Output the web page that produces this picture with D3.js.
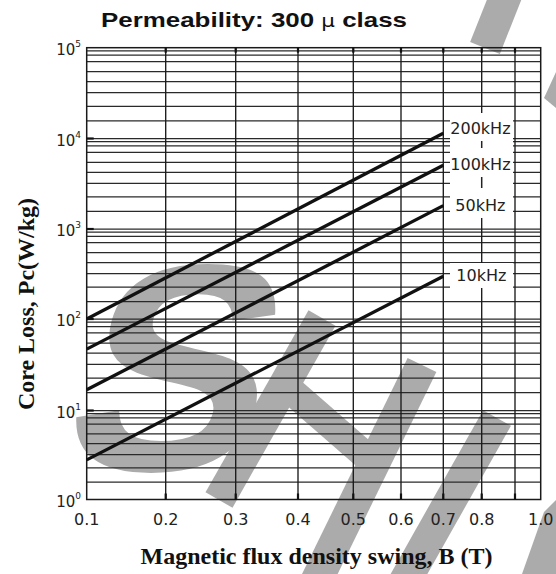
<!DOCTYPE html>
<html><head><meta charset="utf-8">
<script src="https://cdn.jsdelivr.net/npm/d3@7"></script>
<style>body{margin:0;background:#fff}svg{display:block}</style>
</head><body><svg id="c" width="556" height="574"></svg>
<script>
// ---------- DATA ----------
const bGridValues = [0.1, 0.2, 0.3, 0.4, 0.5, 0.6, 0.7, 0.8, 0.9, 1.0];
const bTickValues = [0.1, 0.2, 0.3, 0.4, 0.5, 0.6, 0.7, 0.8, 1.0];
const bTickLabels = ["0.1", "0.2", "0.3", "0.4", "0.5", "0.6", "0.7", "0.8", "1.0"];
const lossDecades = [1, 10, 100, 1000, 10000, 100000];
const lossDecadeExponents = ["0", "1", "2", "3", "4", "5"];
const lossGridMultipliers = [1, 2, 3, 4, 5, 6, 7, 8, 9];
const frequencies = ["200kHz", "100kHz", "50kHz", "10kHz"];
const fluxB = [0.1, 0.7];
const loss200k = [100, 13000];
const loss100k = [54, 5700];
const loss50k = [22, 2400];
const loss10k = [3.6, 380];
const titleText = "Permeability: 300 ";
const titleMu = "\u03bc";
const titleTail = " class";
const xTitle = "Magnetic flux density swing, B (T)";
const yTitle = "Core Loss, Pc(W/kg)";

// ---------- LAYOUT (printed chart's own non-uniform rulings) ----------
const xRange = [86.7, 165.7, 235.7, 298, 353.3, 401, 443.3, 481.7, 515, 540.7];
const decadePx = [499.5, 410.5, 319, 229, 138.5, 47.7];
const withinDecade = [0, .194, .355, .505, .627, .737, .848, .918, .966];

const svg = d3.select("#c");
const x = d3.scaleLinear().domain(bGridValues).range(xRange);
const yDom = [], yRng = [];
for (let d = 0; d < lossDecades.length - 1; d++) {
  lossGridMultipliers.forEach((k, i) => {
    yDom.push(k * lossDecades[d]);
    yRng.push(decadePx[d] + (decadePx[d + 1] - decadePx[d]) * withinDecade[i]);
  });
}
yDom.push(lossDecades[lossDecades.length - 1]);
yRng.push(decadePx[decadePx.length - 1]);
const y = d3.scaleLinear().domain(yDom).range(yRng);

const x0 = x(0.1), x1 = x(1.0), yTop = y(100000), yBot = y(1);

// ---------- watermark ----------
const wm = svg.append("g").attr("fill", "#ababab");
wm.append("text").text("S")
  .attr("font-family", "Liberation Sans").attr("font-weight", "bold")
  .attr("font-size", 295).attr("text-anchor", "middle")
  .attr("transform", "translate(152,470) skewX(-15)");
function band(p1, p2, w) {
  const dx = p2[0] - p1[0], dy = p2[1] - p1[1], L = Math.hypot(dx, dy);
  const nx = -dy / L * w / 2, ny = dx / L * w / 2;
  return [[p1[0] + nx, p1[1] + ny], [p1[0] - nx, p1[1] - ny], [p2[0] - nx, p2[1] - ny], [p2[0] + nx, p2[1] + ny]];
}
const shapes = [
  band([322, 318], [219, 500], 31),
  band([288, 388], [366, 456], 28),
  band([422, 365], [312, 590], 32),
  band([497, 418], [400, 590], 32),
  band([508, -10], [485, 48], 32),
  [[544, 512], [556, 500], [556, 574], [522, 574]],
  [[556, 72], [556, 108], [544, 98]]
];
wm.selectAll("polygon.s").data(shapes).join("polygon")
  .attr("points", d => d.map(p => p.join(",")).join(" "));

// ---------- grid ----------
const grid = svg.append("g");
const hVals = yDom.filter(v => v > 1 && v < 100000);
grid.selectAll("line.h").data(hVals).join("line")
  .attr("x1", x0).attr("x2", x1).attr("y1", d => y(d)).attr("y2", d => y(d))
  .attr("stroke", "#2a2a2a").attr("stroke-width", 1.25);
grid.selectAll("line.v").data(bGridValues.slice(1, -1)).join("line")
  .attr("x1", d => x(d)).attr("x2", d => x(d)).attr("y1", yTop).attr("y2", yBot)
  .attr("stroke", "#1a1a1a").attr("stroke-width", 1.35);

// label column blanks
const blank = svg.append("g").attr("fill", "#fff");
blank.append("rect").attr("x", x(0.7) + 6.7).attr("y", 113).attr("width", 63).attr("height", 105);
blank.append("rect").attr("x", x(0.7) + 6.7).attr("y", 263).attr("width", 63).attr("height", 25);
const tick08 = [[141, 148], [177, 188]];
svg.selectAll("line.t08").data(tick08).join("line")
  .attr("x1", x(0.8)).attr("x2", x(0.8)).attr("y1", d => d[0]).attr("y2", d => d[1])
  .attr("stroke", "#222").attr("stroke-width", 1.5);

// ---------- frame and ticks ----------
svg.append("rect").attr("x", x0).attr("y", yTop).attr("width", x1 - x0).attr("height", yBot - yTop)
  .attr("fill", "none").attr("stroke", "#1a1a1a").attr("stroke-width", 1.5);
svg.selectAll("line.bt").data(bGridValues.slice(1, -1)).join("line")
  .attr("x1", d => x(d)).attr("x2", d => x(d)).attr("y1", yBot).attr("y2", yBot - 6)
  .attr("stroke", "#111").attr("stroke-width", 2.2);
svg.selectAll("line.tt").data(bGridValues.slice(1, -1)).join("line")
  .attr("x1", d => x(d)).attr("x2", d => x(d)).attr("y1", yTop).attr("y2", yTop + 5)
  .attr("stroke", "#111").attr("stroke-width", 2.2);
svg.selectAll("line.lt").data(lossDecades.slice(1, -1)).join("line")
  .attr("x1", x0).attr("x2", x0 + 7).attr("y1", d => y(d)).attr("y2", d => y(d))
  .attr("stroke", "#111").attr("stroke-width", 2.2);

// ---------- data lines ----------
const series = [loss200k, loss100k, loss50k, loss10k];
const line = d3.line().x(d => x(d[0])).y(d => y(d[1]));
svg.selectAll("path.s").data(series).join("path")
  .attr("d", s => line(fluxB.map((b, i) => [b, s[i]])))
  .attr("fill", "none").attr("stroke", "#111").attr("stroke-width", 3.3);

// series labels
const labelDx = [7, 7, 12, 13], labelDy = [1, 5, 5, 5];
svg.selectAll("text.lab").data(frequencies).join("text")
  .attr("x", (d, i) => x(fluxB[1]) + labelDx[i])
  .attr("y", (d, i) => y(series[i][1]) + labelDy[i])
  .attr("font-family", "DejaVu Sans").attr("font-size", 16).attr("fill", "#222")
  .text(d => d);

// ---------- axis labels ----------
svg.selectAll("text.xt").data(bTickValues).join("text")
  .attr("x", d => x(d)).attr("y", 524.5).attr("text-anchor", "middle")
  .attr("font-family", "DejaVu Sans").attr("font-size", 16).attr("fill", "#222")
  .text((d, i) => bTickLabels[i]);
const yl = svg.selectAll("text.yt").data(lossDecades).join("text")
  .attr("x", 81).attr("y", d => y(d) + 7).attr("text-anchor", "end")
  .attr("font-family", "DejaVu Sans").attr("font-size", 15).attr("fill", "#222");
yl.append("tspan").text("10");
yl.append("tspan").attr("dy", -8).attr("font-size", 9).text((d, i) => lossDecadeExponents[i]);

// titles
const t = svg.append("text").attr("x", 101).attr("y", 27).attr("textLength", 306).attr("lengthAdjust", "spacingAndGlyphs")
  .attr("font-family", "Liberation Sans").attr("font-weight", "bold").attr("font-size", 20.5).attr("fill", "#111");
t.append("tspan").text(titleText);
t.append("tspan").attr("font-weight", "normal").attr("font-family", "DejaVu Sans").attr("font-size", 17).text(titleMu);
t.append("tspan").text(titleTail);
svg.append("text").attr("x", 316.5).attr("y", 564).attr("text-anchor", "middle")
  .attr("font-family", "Liberation Serif").attr("font-weight", "bold").attr("font-size", 24).attr("fill", "#111")
  .text(xTitle);
svg.append("text").attr("transform", "translate(34,304) rotate(-90)").attr("text-anchor", "middle")
  .attr("font-family", "Liberation Serif").attr("font-weight", "bold").attr("font-size", 24).attr("fill", "#111")
  .text(yTitle);
</script></body></html>
